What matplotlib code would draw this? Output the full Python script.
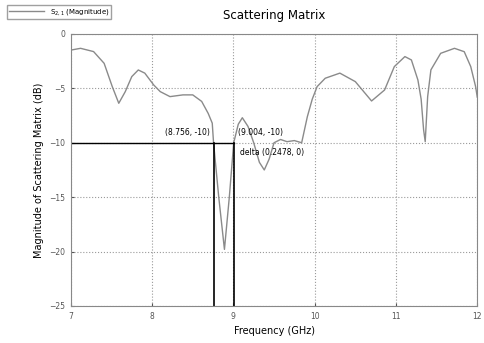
import matplotlib
matplotlib.use("Agg")
from matplotlib import pyplot as plt

# frequency (GHz) and magnitude (dB)
freq = [7.0, 7.01, 7.12, 7.28, 7.41, 7.51, 7.59, 7.67, 7.75, 7.83, 7.91, 8.02,
        8.10, 8.22, 8.38, 8.50, 8.61, 8.69, 8.74, 8.756, 8.82, 8.89, 8.95,
        9.004, 9.06, 9.11, 9.18, 9.25, 9.32, 9.38, 9.44, 9.50, 9.58, 9.66,
        9.75, 9.84, 9.91, 9.97, 10.03, 10.13, 10.31, 10.50, 10.70, 10.86,
        10.98, 11.11, 11.19, 11.27, 11.31, 11.34, 11.36, 11.39, 11.43, 11.55,
        11.72, 11.84, 11.92, 11.98, 12.0]
s21 = [-1.6, -1.47, -1.32, -1.62, -2.7, -4.84, -6.37, -5.3, -3.92, -3.31, -3.6,
       -4.69, -5.3, -5.76, -5.6, -5.6, -6.2, -7.3, -8.2, -10.0, -15.0, -19.8,
       -15.0, -10.0, -8.3, -7.7, -8.5, -10.0, -11.8, -12.5, -11.5, -10.0, -9.7,
       -9.9, -9.8, -10.0, -7.6, -6.0, -4.84, -4.07, -3.6, -4.38, -6.16, -5.15,
       -3.0, -2.08, -2.39, -4.23, -6.0, -8.8, -9.9, -5.76, -3.3, -1.78,
       -1.32, -1.63, -3.0, -4.84, -5.8]

# marker readouts
m1 = (8.756, -10)
m2 = (9.004, -10)
delta = (0.2478, 0)

xticks = [7, 8, 9, 10, 11, 12]
yticks = [0, -5, -10, -15, -20, -25]

fig = plt.figure(figsize=(4.85, 3.43), dpi=100)
ax = fig.add_axes([0.146, 0.108, 0.838, 0.793])

line, = ax.plot(freq, s21, color="#8a8a8a", lw=1.0)

# marker lines
ax.plot([7, m2[0]], [m1[1], m2[1]], color="black", lw=1.0)
ax.plot([m1[0], m1[0]], [m1[1], -25], color="black", lw=1.2)
ax.plot([m2[0], m2[0]], [m2[1], -25], color="black", lw=1.2)

ax.text(m1[0] - 0.05, m1[1] + 0.5, "(%.3f, %d)" % m1, fontsize=5.5, ha="right", va="bottom")
ax.text(m2[0] + 0.05, m2[1] + 0.5, "(%.3f, %d)" % m2, fontsize=5.5, ha="left", va="bottom")
ax.text(m2[0] + 0.08, m2[1] - 0.5, "delta (%.4f, %d)" % delta, fontsize=5.5, ha="left", va="top")

ax.set_xlim(7, 12)
ax.set_ylim(-25, 0)
ax.set_xticks(xticks)
ax.set_yticks(yticks)
ax.tick_params(labelsize=5.5, length=2, direction="in", colors="#555555", pad=4)
ax.grid(True, color="#9a9a9a", ls=":", lw=0.8)
for s in ax.spines.values():
    s.set_color("#888888")
    s.set_linewidth(0.8)

ax.set_xlabel("Frequency (GHz)", fontsize=7)
ax.set_ylabel("Magnitude of Scattering Matrix (dB)", fontsize=7)
ax.set_title("Scattering Matrix", fontsize=8.5, pad=11)

fig.legend([line], ["S$_{2,1}$ (Magnitude)"], loc="upper left",
           bbox_to_anchor=(0.008, 0.995), fontsize=5, frameon=True,
           fancybox=False, edgecolor="#888888", handlelength=5,
           borderpad=0.3)

fig.savefig("out.png", dpi=100)
